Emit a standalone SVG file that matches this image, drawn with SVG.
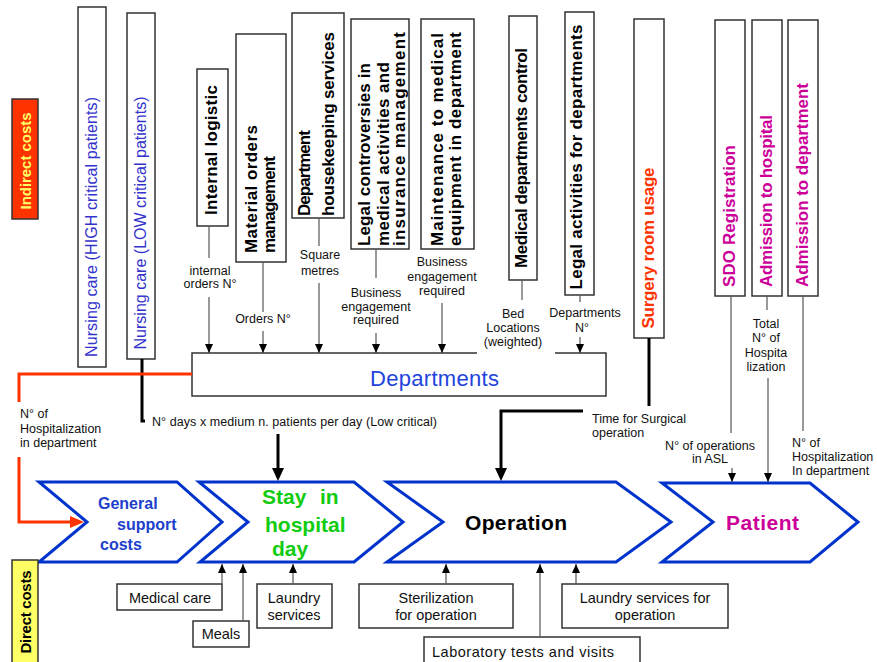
<svg xmlns="http://www.w3.org/2000/svg" width="877" height="662" viewBox="0 0 877 662">
<style>
text{font-family:"Liberation Sans",Arial,sans-serif}
.box{fill:#fff;stroke:#333;stroke-width:1.5}
.b{font-weight:bold;font-size:17px;fill:#000}
.nurse{font-size:16px;fill:#3333CC}
.pink{font-weight:bold;font-size:17px;fill:#CC0099}
.sm{font-size:12.5px;fill:#111;text-anchor:middle}
.sms{font-size:12.5px;fill:#111}
.bt{font-size:14.5px;fill:#111;text-anchor:middle}
.bts{font-size:14.5px;fill:#111}
.con{stroke:#555;stroke-width:1.2;fill:none}
.thick{stroke:#000;stroke-width:3;fill:none}
.chev{fill:#fff;stroke:#0033CC;stroke-width:3}
.ct{font-weight:bold;font-size:21px}
</style>
<defs>
<marker id="a" markerUnits="userSpaceOnUse" markerWidth="9" markerHeight="8" viewBox="0 0 9 8" refX="9" refY="4" orient="auto"><path d="M0,0L9,4L0,8z" fill="#000"/></marker>
<marker id="ab" markerUnits="userSpaceOnUse" markerWidth="13" markerHeight="12" viewBox="0 0 13 12" refX="9" refY="6" orient="auto"><path d="M0,0L13,6L0,12z" fill="#000"/></marker>
<marker id="ao" markerUnits="userSpaceOnUse" markerWidth="14" markerHeight="12" viewBox="0 0 14 12" refX="10" refY="6" orient="auto"><path d="M0,0L14,6L0,12z" fill="#FF3300"/></marker>
<clipPath id="bedclip"><rect x="470" y="300" width="90" height="52"/></clipPath>
</defs>

<g id="chevrons">
<g id="general"><path class="chev" d="M39,482L177,482L222,522L177,562L39,562L87,522Z"/>
<text font-weight="bold" font-size="16" fill="#2040CC"><tspan x="98" y="509">General</tspan><tspan x="117" y="530">support</tspan><tspan x="100" y="550">costs</tspan></text></g>
<g id="stay"><path class="chev" d="M199,482L354,482L403,522L354,562L200,562L248,522Z"/>
<text class="ct" fill="#11CC11"><tspan x="262" y="504">Stay</tspan><tspan x="320" y="504">in</tspan><tspan x="265" y="532">hospital</tspan><tspan x="272" y="556">day</tspan></text></g>
<g id="operation"><path class="chev" d="M387,482L616,482L671,522L616,562L387,562L443,522Z"/>
<text class="ct" x="465" y="530" fill="#000" textLength="102">Operation</text></g>
<g id="patient"><path class="chev" d="M662,483L810,483L858,522L810,562L662,562L713,522Z"/>
<text class="ct" x="726" y="530" fill="#CC0099" textLength="73">Patient</text></g>
</g>

<g id="indirect"><rect x="12" y="99" width="26" height="120" fill="#FF3300" stroke="#333" stroke-width="1.5"/>
<text transform="translate(31,161) rotate(-90)" text-anchor="middle" font-weight="bold" font-size="15" fill="#FFFF66" textLength="97">Indirect costs</text></g>

<g id="direct"><rect x="12" y="560" width="26" height="104" fill="#FFFF66" stroke="#333" stroke-width="1.5"/>
<text transform="translate(31,612) rotate(-90)" text-anchor="middle" font-weight="bold" font-size="15" fill="#000" textLength="83">Direct costs</text></g>

<g id="nursing-high"><rect class="box" x="78" y="7" width="28" height="360"/>
<text class="nurse" transform="translate(97,227) rotate(-90)" text-anchor="middle" textLength="260">Nursing care (HIGH critical patients)</text></g>
<g id="nursing-low"><rect class="box" x="127" y="13" width="28" height="346"/>
<text class="nurse" transform="translate(146,223) rotate(-90)" text-anchor="middle" textLength="253">Nursing care (LOW critical patients)</text></g>

<g id="internal-logistic"><rect class="box" x="197" y="69" width="31" height="157"/>
<text class="b" transform="translate(217,150) rotate(-90)" text-anchor="middle" textLength="130">Internal logistic</text></g>
<g id="material-orders"><rect class="box" x="236" y="34" width="50" height="228"/>
<text class="b" transform="translate(257,253) rotate(-90)" textLength="128">Material orders</text>
<text class="b" transform="translate(275,253) rotate(-90)" textLength="97">management</text></g>
<g id="housekeeping"><rect class="box" x="292" y="13" width="52" height="205"/>
<text class="b" transform="translate(310,216) rotate(-90)" textLength="86">Department</text>
<text class="b" transform="translate(334,216) rotate(-90)" textLength="184">housekeeping services</text></g>
<g id="legal-controversies"><rect class="box" x="351" y="19" width="58" height="230"/>
<text class="b" transform="translate(370,246) rotate(-90)" textLength="183">Legal controversies in</text>
<text class="b" transform="translate(389,246) rotate(-90)" textLength="184">medical activities and</text>
<text class="b" transform="translate(405,246) rotate(-90)" textLength="214">insurance management</text></g>
<g id="maintenance"><rect class="box" x="421" y="19" width="53" height="230"/>
<text class="b" transform="translate(443,246) rotate(-90)" textLength="213">Maintenance to medical</text>
<text class="b" transform="translate(461,246) rotate(-90)" textLength="214">equipment in department</text></g>
<g id="medical-control"><rect class="box" x="509" y="16" width="28" height="264"/>
<text class="b" transform="translate(527,158) rotate(-90)" text-anchor="middle" textLength="220">Medical departments control</text></g>
<g id="legal-activities"><rect class="box" x="565" y="12" width="29" height="283"/>
<text class="b" transform="translate(582,157) rotate(-90)" text-anchor="middle" textLength="265">Legal activities for departments</text></g>
<g id="surgery"><rect class="box" x="634" y="19" width="30" height="319"/>
<text transform="translate(654,248) rotate(-90)" text-anchor="middle" font-weight="bold" font-size="17" fill="#FF3300" textLength="161">Surgery room usage</text></g>
<g id="sdo"><rect class="box" x="715" y="20" width="30" height="276"/>
<text class="pink" transform="translate(735,216) rotate(-90)" text-anchor="middle" textLength="142">SDO Registration</text></g>
<g id="adm-hospital"><rect class="box" x="752" y="20" width="30" height="276"/>
<text class="pink" transform="translate(772,201) rotate(-90)" text-anchor="middle" textLength="172">Admission to hospital</text></g>
<g id="adm-department"><rect class="box" x="788" y="20" width="30" height="276"/>
<text class="pink" transform="translate(808,185) rotate(-90)" text-anchor="middle" textLength="204">Admission to department</text></g>

<g id="departments"><rect class="box" x="192" y="353" width="414" height="43"/>
<text x="434.5" y="386" text-anchor="middle" font-size="22" fill="#2244DD" textLength="129">Departments</text></g>

<g id="medical-care"><rect class="box" x="117" y="584" width="105" height="26"/><text class="bt" x="170" y="603">Medical care</text></g>
<g id="meals"><rect class="box" x="193" y="621" width="56" height="26"/><text class="bt" x="221" y="639">Meals</text></g>
<g id="laundry"><rect class="box" x="257" y="584" width="75" height="44"/><text class="bt"><tspan x="294" y="603">Laundry</tspan><tspan x="294" y="620">services</tspan></text></g>
<g id="sterilization"><rect class="box" x="359" y="584" width="154" height="44"/><text class="bt"><tspan x="436" y="603">Sterilization</tspan><tspan x="436" y="620">for operation</tspan></text></g>
<g id="laboratory"><rect class="box" x="424" y="637" width="216" height="30"/><text class="bts" x="432" y="657" textLength="182">Laboratory tests and visits</text></g>
<g id="laundry-op"><rect class="box" x="562" y="584" width="166" height="44"/><text class="bt"><tspan x="645" y="603">Laundry services for</tspan><tspan x="645" y="620">operation</tspan></text></g>

<g id="connectors">
<line class="con" x1="209" y1="226" x2="209" y2="258"/>
<line class="con" x1="209" y1="297" x2="209" y2="353" marker-end="url(#a)"/>
<line class="con" x1="263" y1="262" x2="263" y2="312"/>
<line class="con" x1="263" y1="331" x2="263" y2="353" marker-end="url(#a)"/>
<line class="con" x1="319" y1="218" x2="319" y2="246"/>
<line class="con" x1="319" y1="283" x2="319" y2="353" marker-end="url(#a)"/>
<line class="con" x1="376" y1="249" x2="376" y2="278"/>
<line class="con" x1="376" y1="333" x2="376" y2="353" marker-end="url(#a)"/>
<line class="con" x1="442" y1="303" x2="442" y2="353" marker-end="url(#a)"/>
<line class="con" x1="522" y1="280" x2="522" y2="300"/>
<line class="con" x1="580" y1="295" x2="580" y2="302"/>
<line class="con" x1="580" y1="337" x2="580" y2="353" marker-end="url(#a)"/>
<polyline class="thick" points="142,359 142,421 145,421"/>
<line class="thick" x1="278" y1="434" x2="278" y2="477" marker-end="url(#ab)"/>
<line class="thick" x1="649" y1="338" x2="649" y2="406"/>
<polyline class="thick" points="583,411 501,411 501,477" marker-end="url(#ab)"/>
<line class="con" x1="731" y1="296" x2="731" y2="433"/>
<line class="con" x1="732" y1="468" x2="732" y2="482" marker-end="url(#a)"/>
<line class="con" x1="767" y1="296" x2="767" y2="310"/>
<line class="con" x1="768" y1="378" x2="768" y2="482" marker-end="url(#a)"/>
<line class="con" x1="803" y1="296" x2="803" y2="431"/>
<polyline points="192,374 19,374 19,402" fill="none" stroke="#FF3300" stroke-width="3"/>
<polyline points="19,457 19,522 80,522" fill="none" stroke="#FF3300" stroke-width="3" marker-end="url(#ao)"/>
<line class="con" x1="222" y1="584" x2="222" y2="564" marker-end="url(#a)"/>
<line class="con" x1="243" y1="621" x2="243" y2="564" marker-end="url(#a)"/>
<line class="con" x1="293" y1="584" x2="293" y2="564" marker-end="url(#a)"/>
<line class="con" x1="446" y1="584" x2="446" y2="564" marker-end="url(#a)"/>
<line class="con" x1="540" y1="637" x2="540" y2="564" marker-end="url(#a)"/>
<line class="con" x1="576" y1="584" x2="576" y2="564" marker-end="url(#a)"/>
</g>

<g id="labels">
<text class="sm"><tspan x="210" y="275">internal</tspan><tspan x="210" y="288">orders N°</tspan></text>
<text class="sm" x="263" y="323">Orders N°</text>
<text class="sm"><tspan x="320" y="259">Square</tspan><tspan x="320" y="275">metres</tspan></text>
<text class="sm"><tspan x="376" y="297">Business</tspan><tspan x="376" y="311">engagement</tspan><tspan x="376" y="324">required</tspan></text>
<text class="sm"><tspan x="442" y="266">Business</tspan><tspan x="442" y="281">engagement</tspan><tspan x="442" y="295">required</tspan></text>
<rect x="477" y="300" width="78" height="54.5" fill="#fff"/>
<g clip-path="url(#bedclip)"><text class="sm"><tspan x="513" y="318">Bed</tspan><tspan x="513" y="332">Locations</tspan><tspan x="513" y="346">(weighted)</tspan></text></g>
<text class="sm"><tspan x="585" y="317">Departments</tspan><tspan x="582" y="332">N°</tspan></text>
<text class="sm"><tspan x="766" y="328">Total</tspan><tspan x="766" y="342">N° of</tspan><tspan x="766" y="357">Hospita</tspan><tspan x="766" y="371">lization</tspan></text>
<text class="sms"><tspan x="592" y="423">Time for Surgical</tspan><tspan x="592" y="437">operation</tspan></text>
<text class="sm"><tspan x="710" y="450">N° of operations</tspan><tspan x="710" y="463">in ASL</tspan></text>
<text class="sms"><tspan x="792" y="447">N° of</tspan><tspan x="792" y="461">Hospitalization</tspan><tspan x="792" y="475">In department</tspan></text>
<text class="sms"><tspan x="20" y="418">N° of</tspan><tspan x="20" y="433">Hospitalization</tspan><tspan x="20" y="447">in department</tspan></text>
<text class="sms" x="152" y="426" textLength="285">N° days x medium n. patients per day (Low critical)</text>
</g>
</svg>
